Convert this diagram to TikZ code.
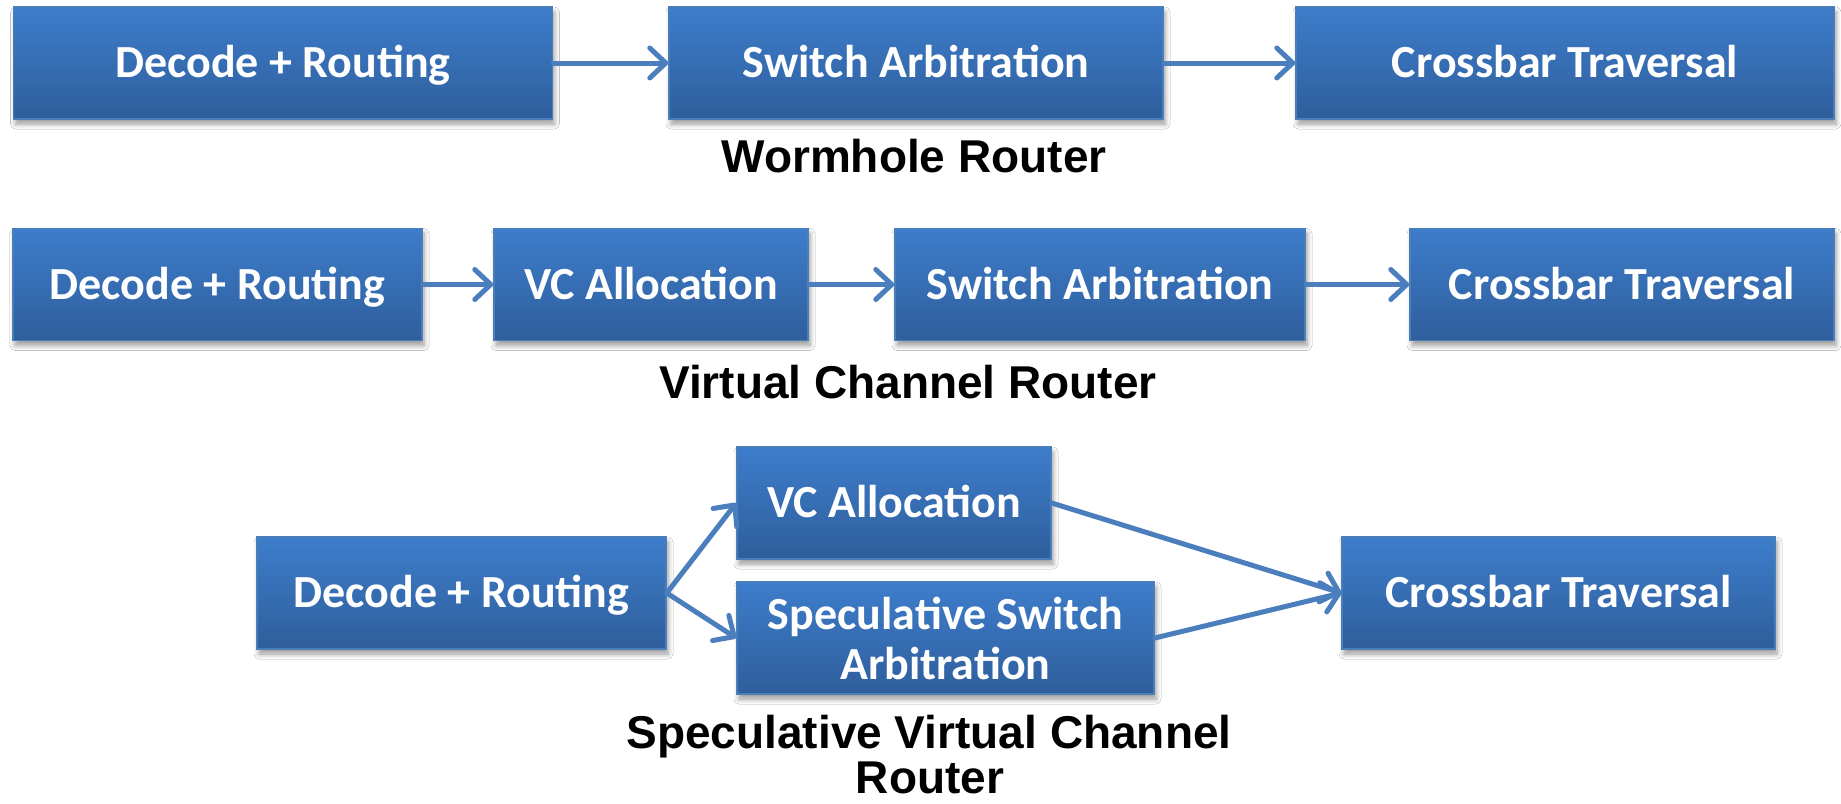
\documentclass[tikz,border=0pt]{standalone}
\usepackage{fontspec}
\newfontfamily\boxfont{Carlito}
\newfontfamily\labelfont{Liberation Sans}
\usetikzlibrary{arrows.meta,shadows.blur}

\definecolor{boxtop}{RGB}{61,125,203}
\definecolor{boxbot}{RGB}{47,94,156}
\definecolor{boxedge}{RGB}{74,126,187}
\definecolor{flow}{RGB}{74,126,189}

\tikzset{
  stage/.style={draw=boxedge, line width=1.5pt, top color=boxtop, bottom color=boxbot,
    minimum height=112pt, inner sep=0pt, text=white,
    font=\boxfont\bfseries\fontsize{46}{50}\selectfont,
    blur shadow={shadow xshift=2pt, shadow yshift=-5pt, shadow blur radius=5pt,
      shadow blur steps=6, shadow opacity=40}},
  oneline/.style={text height=31pt, text depth=2pt},
  flowarrow/.style={draw=flow, line width=5pt, line cap=round,
    -{Straight Barb[length=16pt,width=30pt,line join=round,line cap=round]}},
  caption/.style={font=\labelfont\bfseries\fontsize{46}{49}\selectfont,
    inner sep=0pt, anchor=base}
}

\begin{document}
\begin{tikzpicture}[x=1pt,y=-1pt]
  \path[fill=white, use as bounding box] (0,0) rectangle (1841,803);

  % Wormhole router pipeline
  \node[stage, oneline, minimum width=539pt] (w1) at (283,63) {Decode + Routing};
  \node[stage, oneline, minimum width=494pt] (w2) at (916,63) {Switch Arbitration};
  \node[stage, oneline, minimum width=538pt] (w3) at (1565,63) {Crossbar Traversal};
  \node[caption] (wcap) at (914,172) {Wormhole Router};
  \draw[flowarrow] (w1.east) -- (w2.west);
  \draw[flowarrow] (w2.east) -- (w3.west);

  % Virtual channel router pipeline
  \node[stage, oneline, minimum width=409pt] (v1) at (217.5,284.5) {Decode + Routing};
  \node[stage, oneline, minimum width=314pt] (v2) at (651,284.5) {VC Allocation};
  \node[stage, oneline, minimum width=410pt] (v3) at (1100,284.5) {Switch Arbitration};
  \node[stage, oneline, minimum width=424pt] (v4) at (1622,284.5) {Crossbar Traversal};
  \node[caption] (vcap) at (908,398) {Virtual Channel Router};
  \draw[flowarrow] (v1.east) -- (v2.west);
  \draw[flowarrow] (v2.east) -- (v3.west);
  \draw[flowarrow] (v3.east) -- (v4.west);

  % Speculative virtual channel router pipeline
  \node[stage, oneline, minimum width=409pt] (s1) at (461.5,593) {Decode + Routing};
  \node[stage, oneline, minimum width=314pt] (s2) at (894,503) {VC Allocation};
  \node[stage, align=center, minimum width=417pt] (s3) at (945.5,638) {Speculative Switch\\Arbitration};
  \node[stage, oneline, minimum width=433pt] (s4) at (1558.5,593) {Crossbar Traversal};
  \node[caption] (scap1) at (929,748) {Speculative Virtual Channel};
  \node[caption] (scap2) at (930,793) {Router};
  \draw[flowarrow] (s1.east) -- (s2.west);
  \draw[flowarrow] (s1.east) -- (s3.west);
  \draw[flowarrow] (s2.east) -- (s4.west);
  \draw[flowarrow] (s3.east) -- (s4.west);
\end{tikzpicture}
\end{document}
